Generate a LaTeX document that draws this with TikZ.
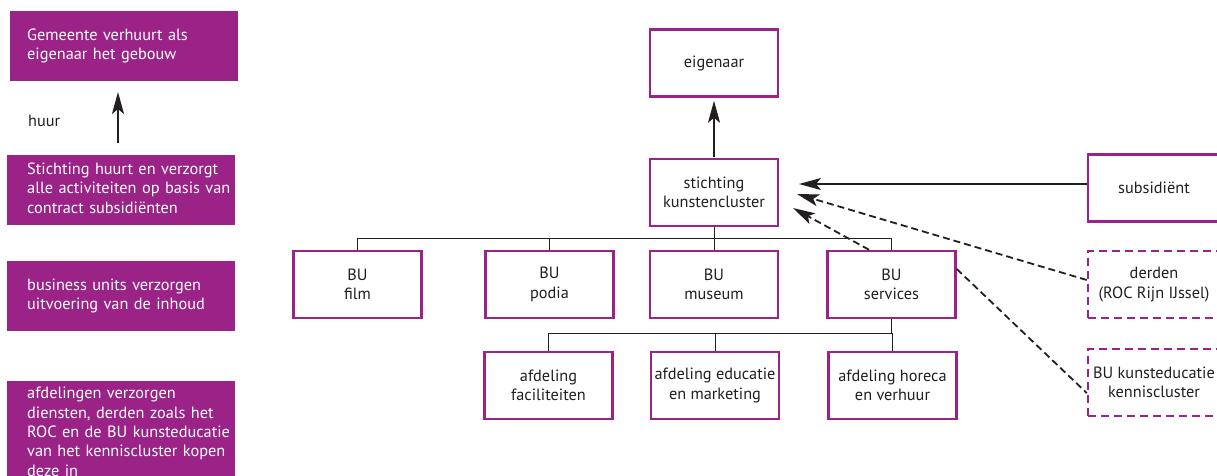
\documentclass[tikz,border=0pt]{standalone}
\usepackage{fontspec}
\setmainfont{PT Sans}
\usetikzlibrary{arrows.meta}
\definecolor{paars}{HTML}{9B2388}
\definecolor{inkt}{HTML}{231F20}
\newcommand{\regels}[1]{\begin{tabular}{@{}l@{}}#1\end{tabular}}
\tikzset{
  tekst/.style={font=\fontsize{16.3}{19.4}\selectfont, text=inkt},
  uitleg/.style={tekst, fill=paars, text=white, align=left, text width=188pt,
    inner xsep=20pt, inner ysep=3pt, minimum height=70pt, anchor=west},
  vak/.style={tekst, draw=paars, line width=2.5pt, fill=white, align=center,
    minimum width=128pt, minimum height=67pt},
  extern/.style={vak, dash pattern=on 8pt off 5pt},
  boom/.style={draw=inkt, line width=0.9pt},
  pijl/.style={draw=inkt, line width=1.8pt, -{Stealth[length=22pt, width=12pt, inset=5pt]}},
  stippel/.style={draw=inkt, line width=1.8pt, dash pattern=on 7pt off 4pt}
}
\begin{document}
\begin{tikzpicture}[x=1pt, y=-1pt]
\path[use as bounding box, clip] (0,0) rectangle (1217,475);
% uitleg links
\node[uitleg, inner xsep=17pt, text width=194pt] (gemeente) at (10,46) {\regels{Gemeente verhuurt als\\eigenaar het gebouw}};
\node[uitleg] (huurt) at (7,190) {\regels{Stichting huurt en verzorgt\\alle activiteiten op basis van\\contract subsidiënten}};
\node[uitleg] (units) at (7,296) {\regels{business units verzorgen\\uitvoering van de inhoud}};
\node[uitleg, anchor=north west, minimum height=0pt, inner ysep=4pt] (afdelingen) at (7,381) {\regels{afdelingen verzorgen\\diensten, derden zoals het\\ROC en de BU kunsteducatie\\van het kenniscluster kopen\\deze in}};
\node[tekst, anchor=west, inner sep=0pt] (huur) at (28,121) {huur};
\coordinate (huurvan) at (118,143);
\coordinate (huurnaar) at (118,92);
\draw[pijl] (huurvan) -- (huurnaar);
% organisatie
\node[vak] (eigenaar) at (714,63) {eigenaar};
\node[vak] (stichting) at (714,192.5) {stichting\\kunstencluster};
\foreach \naam/\x in {film/357.5, podia/549.5, museum/714, services/891.5}
  \node[vak] (\naam) at (\x,284.5) {BU\\\naam};
\node[vak] (faciliteiten) at (548.5,385.5) {afdeling\\faciliteiten};
\node[vak] (educatie) at (715,385.5) {afdeling educatie\\en marketing};
\node[vak] (horeca) at (892.5,385.5) {afdeling horeca\\en verhuur};
\foreach \naam in {film,podia,museum,services}
  \draw[boom] (stichting.south) -- ++(0,11.5) -| (\naam.north);
\foreach \naam in {faciliteiten,educatie,horeca}
  \draw[boom] (services.south) -- ++(0,14) -| (\naam.north);
\draw[pijl, shorten <=1pt, shorten >=3pt] (stichting) -- (eigenaar);
% externen
\node[vak, minimum width=132pt] (subsidient) at (1154,188) {subsidiënt};
\node[extern, minimum width=132pt] (derden) at (1154,284.5) {derden\\(ROC Rijn IJssel)};
\node[extern, minimum width=132pt] (kunsteducatie) at (1154,382.5) {BU kunsteducatie\\kenniscluster};
\coordinate (subsidiepunt) at (799,184);
\coordinate (derdenpunt) at (797,194);
\coordinate (servicespunt) at (793,208);
\draw[pijl] (subsidient.west |- subsidiepunt) -- (subsidiepunt);
\draw[stippel, -{Stealth[length=22pt, width=12pt, inset=5pt]}] ([yshift=4.5pt]derden.west) -- (derdenpunt);
\draw[stippel, -{Stealth[length=22pt, width=12pt, inset=5pt]}] ([xshift=-22.5pt]services.north) -- (servicespunt);
\draw[stippel] ([yshift=15.5pt]services.east) -- ([yshift=-10.5pt]kunsteducatie.west);
\end{tikzpicture}
\end{document}
